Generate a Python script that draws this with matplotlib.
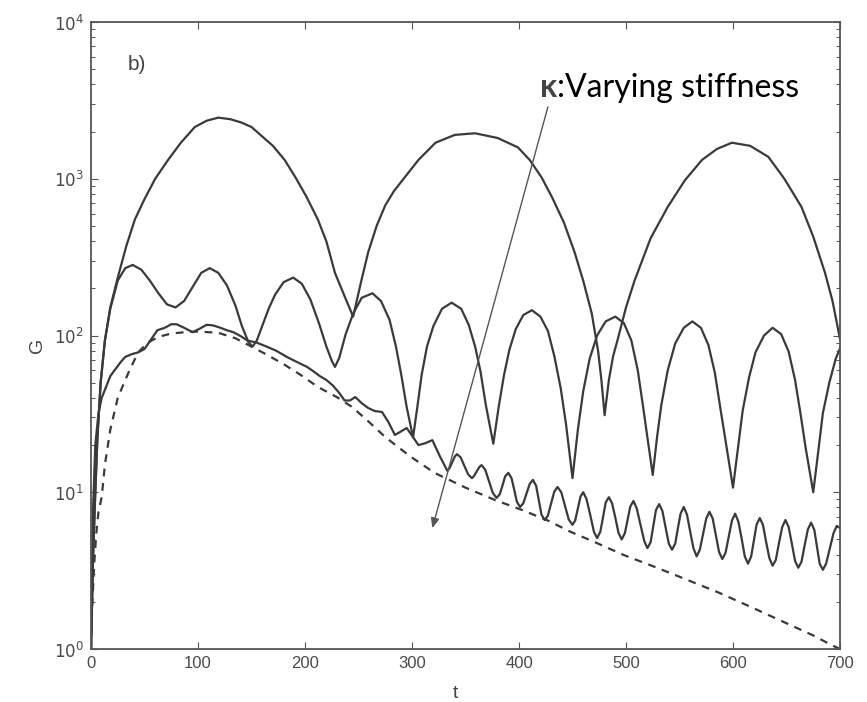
import matplotlib
matplotlib.use("Agg")
import matplotlib.pyplot as plt
from matplotlib.ticker import LogLocator, FixedLocator, NullFormatter

# ---------------- data ----------------
t_top = [0, 2, 4, 6, 9, 13, 18, 25, 33, 41, 50, 60, 72, 84, 97, 108, 119, 130, 140, 150,
         160, 170, 181, 191, 201, 212, 220, 228, 237, 245, 252, 259, 267, 275, 283, 291, 306,
         322, 340, 359, 380, 399, 410, 421, 431, 442, 452, 460, 468, 474, 477, 480, 484, 488,
         492, 500, 508, 523, 539, 555, 571, 585, 599, 616, 633, 648, 664, 675, 686, 693, 700]
g_top = [1, 4, 10, 22, 50, 93, 151, 234, 372, 550, 741, 1000, 1318, 1698, 2138, 2344, 2455,
         2399, 2291, 2138, 1862, 1622, 1318, 1023, 776, 550, 398, 251, 178, 132, 214, 339,
         501, 676, 832, 977, 1318, 1698, 1905, 1950, 1820, 1585, 1318, 1023, 759, 525, 339,
         224, 138, 79, 52, 31, 52, 74, 93, 151, 224, 417, 661, 977, 1318, 1549, 1698, 1622,
         1380, 1000, 661, 427, 251, 166, 95]

t_mid = [0, 2, 4, 6, 9, 13, 18, 25, 32, 39, 47, 55, 63, 71, 79, 87, 95, 103, 111, 119, 127,
         135, 141, 147, 151, 155, 160, 166, 172, 180, 189, 197, 205, 213, 220, 225, 228, 232,
         238, 245, 253, 263, 271, 279, 285, 290, 295, 301, 305, 309, 314, 320, 328, 337, 346,
         353, 359, 364, 369, 376, 381, 386, 391, 397, 404, 412, 420, 427, 433, 439, 444, 450,
         455, 460, 466, 473, 481, 490, 498, 505, 511, 516, 520, 525, 529, 533, 539, 546, 554,
         562, 570, 577, 583, 588, 593, 600, 605, 609, 615, 621, 629, 637, 645, 652, 658, 663,
         668, 675, 680, 684, 690, 696, 700]
g_mid = [1, 4, 10, 22.4, 50, 93, 148, 224, 269, 282, 263, 224, 186, 158, 151, 166, 204, 251,
         269, 251, 209, 155, 115, 91, 85, 93, 115, 148, 182, 219, 234, 214, 170, 120, 85, 69,
         63, 72, 102, 138, 174, 186, 166, 126, 85, 56, 35, 22.4, 35, 56, 85, 115, 148, 162,
         148, 117, 85, 59, 36, 20.4, 35, 56, 81, 110, 135, 145, 132, 107, 74, 46, 27, 12.3,
         25, 44, 71, 100, 123, 132, 120, 93, 60, 35, 22.4, 12.9, 22.4, 36, 60, 89, 112, 123,
         112, 87, 58, 35, 21.4, 10.7, 20, 33, 54, 78, 100, 112, 102, 79, 52, 32, 19, 10, 19,
         32, 50, 71, 83]

t_wavy = [0, 1, 2, 4, 7, 10, 13, 18, 22, 28, 32, 38, 44, 50, 56, 62, 69, 75, 80, 87, 95,
          101, 108, 114, 121, 127, 133, 140, 146, 155, 164, 173, 183, 192, 202, 208, 214, 220,
          226, 232, 237, 242, 247, 253, 259, 265, 272, 278, 284, 290, 295, 300, 306, 312, 319,
          326, 333, 335, 337.5, 340, 342, 345.5, 349, 352.5, 356, 358, 360.5, 363, 365, 368.5,
          372, 375.5, 379, 382, 384.5, 387, 390, 393, 395.5, 398, 401, 404, 407, 410, 413, 416,
          418.5, 421, 424, 427, 430, 433, 436, 439.5, 443, 446.5, 450, 452.5, 455, 457.5, 460,
          463, 466.5, 470, 473, 476, 478.5, 481, 484, 487, 490, 493, 496, 499, 501.5, 504, 507,
          510, 513.5, 517, 520, 523, 525.5, 528, 531, 534, 537, 540, 543, 546, 548.5, 551, 554,
          557, 560, 563, 566, 569, 572, 575, 578, 581, 584, 587, 590, 593, 596, 599, 602, 605,
          608, 611, 614, 617, 619.5, 622, 625, 628, 631, 634, 637, 640, 643, 646, 649, 652,
          655, 658, 661, 664, 667, 670, 673, 676, 678.5, 681, 684, 687, 690.5, 694, 697, 700]
g_wavy = [1, 3, 8, 20, 32, 40, 45, 55, 60, 68, 73, 76, 78, 82, 94, 108, 112, 118, 118, 112,
          105, 110, 117, 116, 112, 108, 105, 99, 93, 90, 85, 80, 73, 68, 63, 59, 55, 52, 48,
          43, 38.5, 38.5, 40.5, 37, 34.5, 33, 32.5, 28, 23.2, 24.5, 25.7, 23, 20, 20.5, 21.5,
          17, 13.7, 14.2, 15.5, 16.9, 17.5, 16.7, 14.7, 13.0, 12.3, 12.7, 13.6, 14.5, 14.9,
          13.9, 11.7, 9.9, 9.2, 9.7, 11.0, 12.6, 13.3, 12.3, 10.4, 8.7, 8.05, 8.5, 9.8, 11.3,
          12.0, 11.0, 8.9, 7.2, 6.65, 7.1, 8.5, 10.1, 10.8, 10.0, 8.2, 6.7, 6.2, 6.6, 7.9, 9.4,
          10.0, 9.1, 7.2, 5.6, 5.1, 5.6, 6.9, 8.6, 9.3, 8.5, 6.9, 5.5, 5.0, 5.5, 6.7, 8.1, 8.8,
          7.9, 6.2, 4.9, 4.4, 4.8, 6.1, 7.7, 8.4, 7.6, 6.0, 4.7, 4.3, 4.7, 5.9, 7.3, 8.05, 7.2,
          5.6, 4.4, 3.9, 4.3, 5.4, 6.8, 7.5, 6.8, 5.3, 4.15, 3.75, 4.1, 5.2, 6.6, 7.3, 6.5,
          5.1, 3.9, 3.5, 3.9, 4.9, 6.2, 6.85, 6.2, 4.8, 3.8, 3.4, 3.7, 4.75, 6.0, 6.65, 6.0,
          4.7, 3.65, 3.3, 3.6, 4.6, 5.8, 6.4, 5.75, 4.5, 3.5, 3.2, 3.5, 4.4, 5.5, 6.1, 5.9]

t_dash = [0, 1, 3, 5, 7, 10, 13, 18, 25, 35, 44, 53, 63, 75, 88, 100, 119, 135, 150, 165,
          181, 196, 212, 231, 244, 260, 275, 298, 321, 350, 378, 403, 427, 448, 471, 497, 524,
          555, 586, 617, 649, 675, 692, 700]
g_dash = [1, 1.8, 3.5, 5.5, 7.5, 9.3, 15, 25, 40, 58, 78, 90, 98, 103, 105, 106, 104, 96,
          85, 75, 65, 56, 47, 40, 35, 28, 22.5, 17, 13.3, 10.7, 8.9, 7.7, 6.6, 5.6, 4.8, 4.0,
          3.4, 2.8, 2.3, 1.85, 1.47, 1.22, 1.06, 1.0]

x_ticks = [0, 100, 200, 300, 400, 500, 600, 700]
y_ticks = [1, 10, 100, 1000, 10000]
y_ticklabels = [r"$10^0$", r"$10^1$", r"$10^2$", r"$10^3$", r"$10^4$"]

arrow_start = (427, 2870)
arrow_end = (319, 5.9)

# ---------------- figure ----------------
fig = plt.figure(figsize=(8.67, 7.02), dpi=100)
ax = fig.add_axes([91 / 867, 53 / 702, 749 / 867, 627 / 702])

line_c = "#3a3a3a"
lw = 1.6
for tt, gg in [(t_top, g_top), (t_mid, g_mid), (t_wavy, g_wavy)]:
    ax.plot(tt, gg, color=line_c, lw=lw, solid_joinstyle="round", solid_capstyle="round")
ax.plot(t_dash, g_dash, color=line_c, lw=lw, linestyle=(0, (3.5, 3.0)))

ax.set_yscale("log")
ax.set_xlim(0, 700)
ax.set_ylim(1, 1e4)

tick_font = {"family": "Liberation Sans", "size": 12, "color": "#4a4a4a"}
ax.xaxis.set_major_locator(FixedLocator(x_ticks))
ax.set_xticklabels([str(v) for v in x_ticks], fontdict=tick_font)
ax.yaxis.set_major_locator(FixedLocator(y_ticks))
ax.set_yticklabels(y_ticklabels, fontdict=tick_font)
ax.yaxis.set_minor_locator(LogLocator(base=10, subs=range(2, 10)))
ax.yaxis.set_minor_formatter(NullFormatter())

ax.tick_params(which="both", direction="in", top=True, right=True, colors="#555555")
ax.tick_params(which="major", length=5, width=0.8, pad=5)
ax.tick_params(which="minor", length=3, width=0.7)
for lab in ax.get_xticklabels() + ax.get_yticklabels():
    lab.set_color("#4a4a4a")

for s in ax.spines.values():
    s.set_color("#555555")
    s.set_linewidth(1.3)

ax.set_xlabel("t", fontsize=14, family="Liberation Sans", color="#444444")
ax.xaxis.set_label_coords((455 - 91) / 749, -0.058)
ax.set_ylabel("G", fontsize=14, family="Liberation Sans", color="#444444")
ax.yaxis.set_label_coords((46 - 91) / 749, (649 - 345) / 627)

ax.text(0.049, 0.924, "b)", transform=ax.transAxes, fontsize=15,
        family="Liberation Sans", color="#444444", va="baseline")

ax.annotate("", xy=arrow_end, xytext=arrow_start,
            arrowprops=dict(arrowstyle="-|>,head_length=0.6,head_width=0.25",
                            color="#555555", lw=1.0, shrinkA=0, shrinkB=0))

ax.text((540 - 91) / 749, 0.880, "κ", transform=ax.transAxes, fontsize=23,
        family=["Lato", "DejaVu Sans"], color="#444444", va="baseline", weight="bold")
ax.text((557 - 91) / 749, 0.880, ":Varying stiffness", transform=ax.transAxes,
        fontsize=23, family="Lato", color="black", va="baseline")

fig.savefig("out.png", dpi=100)
